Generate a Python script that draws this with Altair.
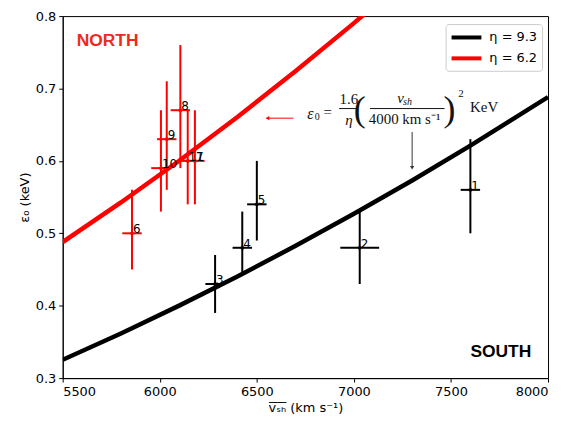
import altair as alt
import pandas as pd

# ---- data ----
curve_x_black = [5500, 5800, 6100, 6400, 6700, 7000, 7300, 7600, 8000]
curve_y_black = [0.3253, 0.3617, 0.4001, 0.4404, 0.4827, 0.5269, 0.5730, 0.6211, 0.6882]
curve_x_red = [5500, 5800, 6100, 6400, 6700, 7000, 7300]
curve_y_red = [0.4879, 0.5426, 0.6002, 0.6606, 0.7240, 0.7903, 0.8595]

south_id = ["1", "2", "3", "4", "5"]
south_v = [7600, 7030, 6285, 6425, 6500]
south_v_err = [50, 100, 50, 50, 50]
south_e = [0.56, 0.48, 0.43, 0.48, 0.54]
south_e_lo = [0.50, 0.43, 0.39, 0.443, 0.49]
south_e_hi = [0.63, 0.533, 0.47, 0.53, 0.60]

north_id = ["6", "7", "8", "9", "10", "11"]
north_v = [5857, 6181, 6106, 6036, 6006, 6144]
north_v_err = [50, 50, 50, 50, 50, 50]
north_e = [0.50, 0.60, 0.67, 0.63, 0.59, 0.60]
north_e_lo = [0.45, 0.54, 0.59, 0.56, 0.53, 0.54]
north_e_hi = [0.56, 0.67, 0.76, 0.71, 0.67, 0.67]

legend_labels = ["η = 9.3", "η = 6.2"]
legend_colors = ["black", "#ff0000"]

# ---- tables ----
curves = pd.concat([
    pd.DataFrame({"v": curve_x_black, "e": curve_y_black, "eta": legend_labels[0]}),
    pd.DataFrame({"v": curve_x_red, "e": curve_y_red, "eta": legend_labels[1]}),
])

def pts(ids, v, verr, e, lo, hi, col):
    return pd.DataFrame({
        "id": ids, "v": v, "e": e, "lo": lo, "hi": hi,
        "vlo": [a - b for a, b in zip(v, verr)],
        "vhi": [a + b for a, b in zip(v, verr)],
        "col": col,
    })

points = pd.concat([
    pts(south_id, south_v, south_v_err, south_e, south_e_lo, south_e_hi, "black"),
    pts(north_id, north_v, north_v_err, north_e, north_e_lo, north_e_hi, "#ff0000"),
])

xs = alt.Scale(domain=[5500, 8000], nice=False, zero=False)
ys = alt.Scale(domain=[0.3, 0.8], nice=False, zero=False)

X = alt.X("v:Q", scale=xs, title="v̅ₛ̅ₕ̅ (km s⁻¹)",
          axis=alt.Axis(values=[5500, 6000, 6500, 7000, 7500, 8000], format="d"))
Y = alt.Y("e:Q", scale=ys, title="ε₀ (keV)",
          axis=alt.Axis(values=[0.3, 0.4, 0.5, 0.6, 0.7, 0.8], format=".1f"))

curve_layer = alt.Chart(curves).mark_line(strokeWidth=4.5, clip=True).encode(
    x=X, y=Y,
    color=alt.Color("eta:N", scale=alt.Scale(domain=legend_labels, range=legend_colors),
                    legend=alt.Legend(title=None, orient="none", legendX=385, legendY=8,
                                      symbolType="M-1,0H3", symbolStrokeWidth=4,
                                      symbolSize=225, labelFontSize=13, labelOffset=21,
                                      labelFont="DejaVu Sans", labelColor="black",
                                      strokeColor="#cccccc",
                                      fillColor="white", padding=4, cornerRadius=3,
                                      rowPadding=3)),
    detail="eta:N",
)

base = alt.Chart(points)
vbars = base.mark_rule(strokeWidth=2).encode(
    x=alt.X("v:Q", scale=xs), y=alt.Y("lo:Q", scale=ys), y2="hi:Q",
    color=alt.Color("col:N", scale=None))
hbars = base.mark_rule(strokeWidth=2).encode(
    x=alt.X("vlo:Q", scale=xs), x2="vhi:Q", y=alt.Y("e:Q", scale=ys),
    color=alt.Color("col:N", scale=None))
dots = base.mark_circle(size=14, opacity=1).encode(
    x=alt.X("v:Q", scale=xs), y=alt.Y("e:Q", scale=ys),
    color=alt.Color("col:N", scale=None))
labels = base.mark_text(align="left", baseline="alphabetic", dx=1, dy=0,
                        fontSize=12, font="DejaVu Sans", color="black").encode(
    x=alt.X("v:Q", scale=xs), y=alt.Y("e:Q", scale=ys), text="id:N")

# formula annotation pieces (data coordinates)
f_txt = ["ε", "0", "=", "1.6", "η", "(", ")", "v", "sh", "4000 km s⁻¹", "2", "KeV"]
f_x = [6776, 6811, 6865, 6974, 6974, 7030, 7492, 7240, 7276, 7261, 7551, 7671]
f_y = [0.6651, 0.6603, 0.6672, 0.6850, 0.6560, 0.670, 0.670, 0.6865, 0.6810, 0.6575, 0.6929, 0.6745]
f_size = [16, 10, 15, 15, 15, 36, 36, 15, 10, 15, 11, 15]
f_italic = [True, False, False, False, True, False, False, True, True, False, False, False]
formula = pd.DataFrame({"t": f_txt, "v": f_x, "e": f_y, "s": f_size, "it": f_italic})

def formula_part(df, style):
    return alt.Chart(df).mark_text(align="center", baseline="middle", fontStyle=style,
                                   font="Liberation Serif", color="#111111").encode(
        x=alt.X("v:Q", scale=xs), y=alt.Y("e:Q", scale=ys), text="t:N",
        size=alt.Size("s:Q", scale=None))

formula_it = formula_part(formula[formula["it"]], "italic")
formula_rm = formula_part(formula[~formula["it"]], "normal")

fb_x1 = [6924, 7083]
fb_x2 = [7021, 7467]
fb_y = [0.6723, 0.6723]
fbars = alt.Chart(pd.DataFrame({"v": fb_x1, "v2": fb_x2, "e": fb_y})).mark_rule(
    strokeWidth=1, color="#111111").encode(
    x=alt.X("v:Q", scale=xs), x2="v2:Q", y=alt.Y("e:Q", scale=ys))

# arrows
red_arrow = alt.Chart(pd.DataFrame({"v": [6689], "v2": [6550], "e": [0.659]})).mark_rule(
    strokeWidth=1, color="#ff0000").encode(
    x=alt.X("v:Q", scale=xs), x2="v2:Q", y=alt.Y("e:Q", scale=ys))
red_head = alt.Chart(pd.DataFrame({"v": [6555], "e": [0.659]})).mark_point(
    shape="triangle-left", size=18, filled=True, color="#ff0000", opacity=1).encode(
    x=alt.X("v:Q", scale=xs), y=alt.Y("e:Q", scale=ys))
blk_arrow = alt.Chart(pd.DataFrame({"v": [7300], "e": [0.640], "e2": [0.592]})).mark_rule(
    strokeWidth=1, color="#333333").encode(
    x=alt.X("v:Q", scale=xs), y=alt.Y("e:Q", scale=ys), y2="e2:Q")
blk_head = alt.Chart(pd.DataFrame({"v": [7300], "e": [0.5905]})).mark_point(
    shape="triangle-down", size=18, filled=True, color="#333333", opacity=1).encode(
    x=alt.X("v:Q", scale=xs), y=alt.Y("e:Q", scale=ys))

region_txt = ["NORTH", "SOUTH"]
region_x = [5572, 7600]
region_y = [0.765, 0.336]
region_col = ["#ee2a1e", "black"]
regions = alt.Chart(pd.DataFrame({"t": region_txt, "v": region_x, "e": region_y, "c": region_col})).mark_text(
    align="left", baseline="middle", fontSize=17.5, fontWeight="bold", font="Liberation Sans").encode(
    x=alt.X("v:Q", scale=xs), y=alt.Y("e:Q", scale=ys), text="t:N",
    color=alt.Color("c:N", scale=None))

chart = alt.layer(
    curve_layer, vbars, hbars, dots, labels, formula_it, formula_rm, fbars,
    red_arrow, red_head, blk_arrow, blk_head, regions
).properties(
    width=488, height=364,
    padding={"left": 10, "top": 1, "right": 5, "bottom": 5},
).configure_view(
    stroke="black", strokeWidth=1
).configure_axis(
    grid=False, domainColor="black", tickColor="black", tickSize=4,
    labelFont="DejaVu Sans", labelFontSize=13, labelColor="black",
    titleFont="DejaVu Sans", titleFontSize=13, titleFontWeight="normal", titleColor="black",
    labelPadding=3,
)

chart.save("out.html", embed_options={"renderer": "svg", "actions": False})
